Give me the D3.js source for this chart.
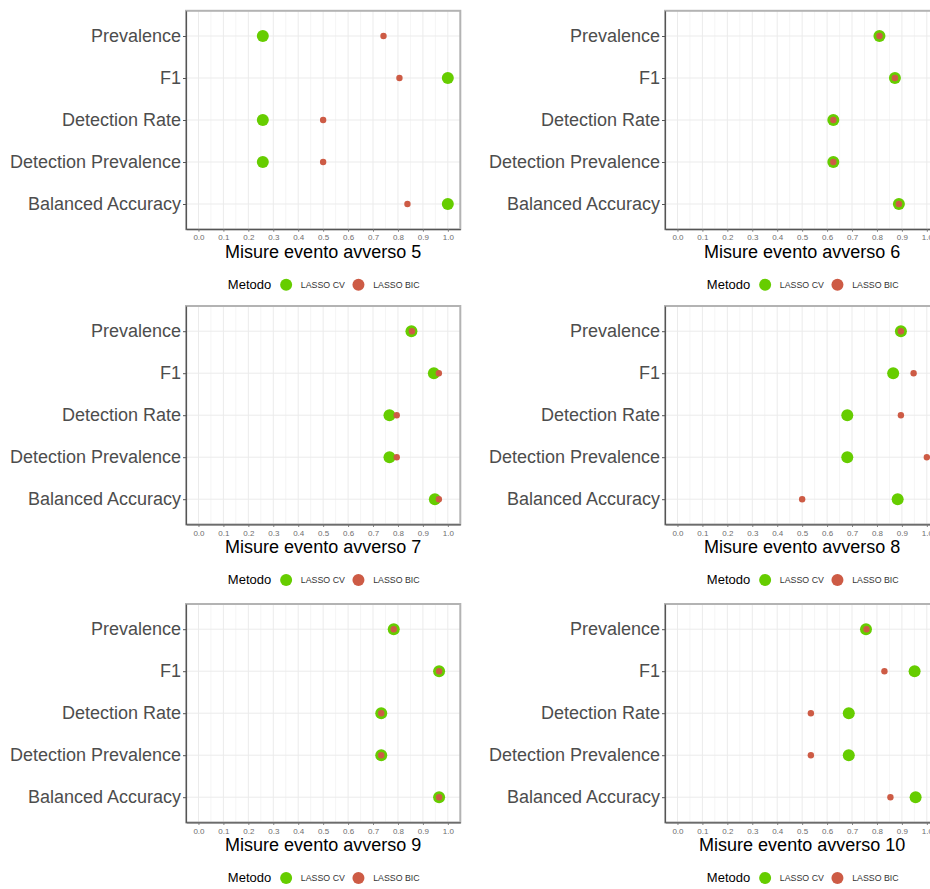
<!DOCTYPE html>
<html>
<head>
<meta charset="utf-8">
<script src="https://cdn.jsdelivr.net/npm/d3@7"></script>
<style>
  html, body { margin: 0; padding: 0; background: #ffffff; }
  svg { display: block; font-family: "Liberation Sans", Arial, sans-serif; }
</style>
</head>
<body>
<svg id="chart" width="930" height="889"></svg>
<script>
// Classification metrics per adverse event, two selection methods
const metrics = ["Prevalence", "F1", "Detection Rate", "Detection Prevalence", "Balanced Accuracy"];
const events = [5, 6, 7, 8, 9, 10];
const methods = ["LASSO CV", "LASSO BIC"];

// one row per event, values in the order of `metrics`
const lassoCV = [
  [0.258, 1.000, 0.258, 0.258, 1.000],
  [0.810, 0.872, 0.625, 0.625, 0.888],
  [0.854, 0.944, 0.766, 0.766, 0.948],
  [0.896, 0.865, 0.681, 0.681, 0.883],
  [0.783, 0.965, 0.733, 0.733, 0.965],
  [0.756, 0.951, 0.687, 0.687, 0.955]
];
const lassoBIC = [
  [0.742, 0.806, 0.500, 0.500, 0.838],
  [0.810, 0.872, 0.625, 0.625, 0.888],
  [0.856, 0.964, 0.795, 0.795, 0.964],
  [0.896, 0.947, 0.896, 1.000, 0.500],
  [0.783, 0.965, 0.733, 0.733, 0.965],
  [0.758, 0.830, 0.535, 0.535, 0.854]
];
const xTicks = [0, 0.1, 0.2, 0.3, 0.4, 0.5, 0.6, 0.7, 0.8, 0.9, 1.0];
const xMinor = [0.05, 0.15, 0.25, 0.35, 0.45, 0.55, 0.65, 0.75, 0.85, 0.95];

const colors = { "LASSO CV": "#66CD00", "LASSO BIC": "#CD5B45" };
const radius = { "LASSO CV": 6, "LASSO BIC": 3.2 };

// grid of panels: two columns, three rows
const colLeft = [186, 665];
const rowTop = [10.8, 306, 604];
const pw = 274.3, ph = 218.4;

const svg = d3.select("#chart");

events.forEach((ev, i) => {
  const col = i % 2, row = Math.floor(i / 2);
  const g = svg.append("g")
    .attr("transform", `translate(${colLeft[col]},${rowTop[row]})`);

  const x = d3.scaleLinear().domain([-0.05, 1.05]).range([0, pw]);
  const y = d3.scalePoint().domain(metrics).range([0, ph]).padding(0.6);

  // minor + major vertical grid, horizontal grid at categories
  g.selectAll(".minor").data(xMinor).join("line")
    .attr("x1", d => x(d)).attr("x2", d => x(d))
    .attr("y1", 0).attr("y2", ph)
    .attr("stroke", "#F3F3F3").attr("stroke-width", 0.8);
  g.selectAll(".major").data(xTicks).join("line")
    .attr("x1", d => x(d)).attr("x2", d => x(d))
    .attr("y1", 0).attr("y2", ph)
    .attr("stroke", "#EBEBEB").attr("stroke-width", 1);
  g.selectAll(".hgrid").data(metrics).join("line")
    .attr("x1", 0).attr("x2", pw)
    .attr("y1", d => y(d)).attr("y2", d => y(d))
    .attr("stroke", "#EBEBEB").attr("stroke-width", 1);

  // panel border
  g.append("rect")
    .attr("x", 0).attr("y", 0).attr("width", pw).attr("height", ph)
    .attr("fill", "none").attr("stroke", "#B3B3B3").attr("stroke-width", 2);

  // axes
  const xAxis = d3.axisBottom(x).tickValues(xTicks)
    .tickFormat(d3.format(".1f")).tickSizeInner(2.5).tickSizeOuter(0).tickPadding(3);
  const gx = g.append("g").attr("transform", `translate(0,${ph})`).call(xAxis);
  gx.select(".domain").attr("stroke", "#555555").attr("stroke-width", 1.2);
  gx.selectAll(".tick line").attr("stroke", "#777777");
  gx.selectAll(".tick text")
    .attr("fill", "#6E6E6E").attr("font-size", 8)
    .attr("font-family", "Liberation Sans, Arial, sans-serif");

  const yAxis = d3.axisLeft(y).tickSizeInner(3).tickSizeOuter(0).tickPadding(2);
  const gy = g.append("g").call(yAxis);
  gy.select(".domain").attr("stroke", "#555555").attr("stroke-width", 1.2);
  gy.selectAll(".tick line").attr("stroke", "#555555");
  gy.selectAll(".tick text")
    .attr("fill", "#4D4D4D").attr("font-size", 18)
    .attr("font-family", "Liberation Sans, Arial, sans-serif");

  // points: LASSO CV first, LASSO BIC drawn over it
  const series = [
    { method: "LASSO CV", values: lassoCV[i] },
    { method: "LASSO BIC", values: lassoBIC[i] }
  ];
  series.forEach(s => {
    g.append("g").selectAll("circle")
      .data(metrics.map((m, k) => ({ m, v: s.values[k] })))
      .join("circle")
      .attr("cx", d => x(d.v))
      .attr("cy", d => y(d.m))
      .attr("r", radius[s.method])
      .attr("fill", colors[s.method]);
  });

  // axis title
  const cx = pw / 2;
  g.append("text")
    .attr("x", cx).attr("y", ph + 29)
    .attr("text-anchor", "middle")
    .attr("font-size", 18).attr("fill", "#000000")
    .text(`Misure evento avverso ${ev}`);

  // legend below the panel
  const lg = g.append("g").attr("transform", `translate(${cx},${ph + 55.5})`);
  lg.append("text")
    .attr("x", -95.3).attr("y", 0).attr("dy", "0.35em")
    .attr("font-size", 13).attr("fill", "#000000")
    .text("Metodo");
  const keyX = [-37, 35.3];
  const labX = [-22.3, 50];
  methods.forEach((m, k) => {
    lg.append("circle")
      .attr("cx", keyX[k]).attr("cy", 0).attr("r", 6)
      .attr("fill", colors[m]);
    lg.append("text")
      .attr("x", labX[k]).attr("y", 0).attr("dy", "0.35em")
      .attr("font-size", 8.8).attr("fill", "#333333")
      .text(m);
  });
});
</script>
</body>
</html>
